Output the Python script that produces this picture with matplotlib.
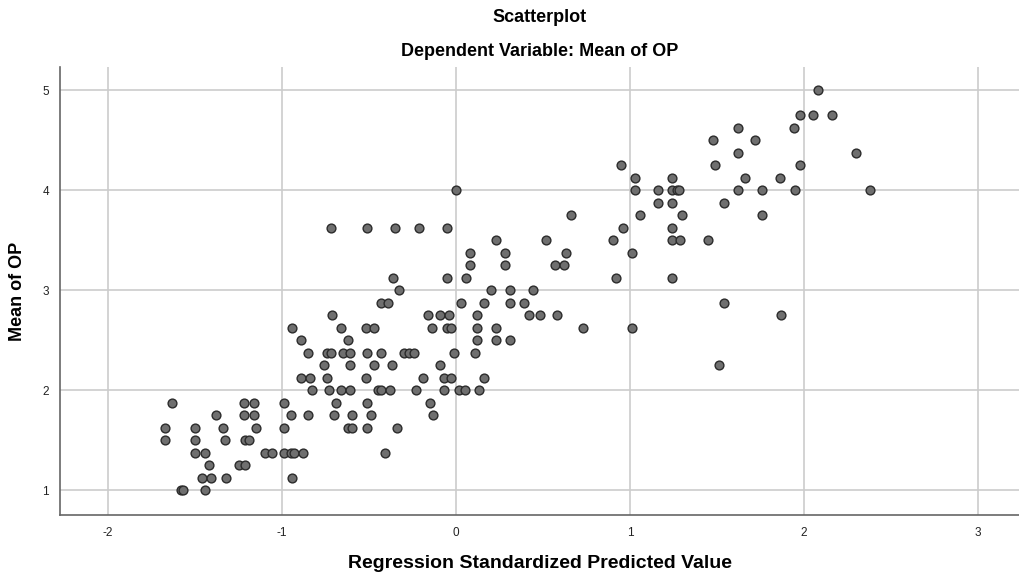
import matplotlib
matplotlib.use('Agg')
import matplotlib.pyplot as plt
import numpy as np

# Mean of OP levels and the standardized predicted values read at each level
y_levels = [1.0, 1.125, 1.25, 1.375, 1.5, 1.625, 1.75, 1.875, 2.0, 2.125,
            2.25, 2.375, 2.5, 2.625, 2.75, 2.875, 3.0, 3.125, 3.25, 3.375,
            3.5, 3.625, 3.75, 3.875, 4.0, 4.125, 4.25, 4.375, 4.5, 4.625,
            4.75, 5.0]
x_by_level = [
    [-1.58, -1.57, -1.44],
    [-1.46, -1.41, -1.32, -0.94],
    [-1.42, -1.25, -1.21],
    [-1.50, -1.44, -1.10, -1.06, -0.99, -0.95, -0.93, -0.88, -0.41],
    [-1.67, -1.50, -1.33, -1.21, -1.19],
    [-1.67, -1.50, -1.34, -1.15, -0.99, -0.62, -0.60, -0.51, -0.34],
    [-1.38, -1.22, -1.16, -0.95, -0.85, -0.70, -0.60, -0.49, -0.13],
    [-1.63, -1.22, -1.16, -0.99, -0.69, -0.51, -0.15],
    [-0.83, -0.73, -0.66, -0.61, -0.45, -0.43, -0.38, -0.23, -0.07, 0.02, 0.05, 0.13],
    [-0.89, -0.84, -0.74, -0.52, -0.19, -0.07, -0.03, 0.16],
    [-0.76, -0.61, -0.47, -0.37, -0.09, 1.51],
    [-0.85, -0.74, -0.72, -0.65, -0.61, -0.51, -0.43, -0.30, -0.27, -0.24, -0.01, 0.11],
    [-0.89, -0.62, 0.12, 0.23, 0.31],
    [-0.94, -0.66, -0.52, -0.47, -0.14, -0.05, -0.03, 0.12, 0.23, 0.73, 1.01],
    [-0.71, -0.16, -0.09, -0.04, 0.12, 0.42, 0.48, 0.58, 1.87],
    [-0.43, -0.39, 0.03, 0.16, 0.31, 0.39, 1.54],
    [-0.33, 0.20, 0.31, 0.44],
    [-0.36, -0.05, 0.06, 0.92, 1.24],
    [0.08, 0.28, 0.57, 0.62],
    [0.08, 0.28, 0.63, 1.01],
    [0.23, 0.52, 0.90, 1.24, 1.29, 1.45],
    [-0.72, -0.51, -0.35, -0.21, -0.05, 0.96, 1.24],
    [0.66, 1.06, 1.30, 1.76],
    [1.16, 1.24, 1.54],
    [0.00, 1.03, 1.16, 1.24, 1.27, 1.28, 1.62, 1.76, 1.95, 2.38],
    [1.03, 1.24, 1.66, 1.86],
    [0.95, 1.49, 1.98],
    [1.62, 2.30],
    [1.48, 1.72],
    [1.62, 1.94],
    [1.98, 2.05, 2.16],
    [2.08],
]

x_ticks = [-2, -1, 0, 1, 2, 3]
y_ticks = [1, 2, 3, 4, 5]

pred = [x for xs in x_by_level for x in xs]
mean_op = [y for y, xs in zip(y_levels, x_by_level) for _ in xs]

plt.rcParams['font.family'] = ['Liberation Sans', 'DejaVu Sans']
plt.rcParams['axes.unicode_minus'] = False

fig = plt.figure(figsize=(10.19, 5.78), dpi=100)
ax = fig.add_axes([0.0589, 0.109, 0.9411, 0.775])

ax.set_axisbelow(True)
ax.grid(True, color='#cccccc', linewidth=1.2)
ax.scatter(pred, mean_op, s=40, facecolor='#6f6f6f', edgecolor='#2b2b2b',
           linewidth=1.0, zorder=3)

ax.set_xlim(-2.276, 3.236)
ax.set_ylim(0.75, 5.23)
ax.set_xticks(x_ticks)
ax.set_yticks(y_ticks)
ax.tick_params(length=0, labelsize=8.5, colors='#222222', pad=9)
ax.tick_params(axis='y', pad=8)

for side in ['top', 'right']:
    ax.spines[side].set_visible(False)
for side in ['left', 'bottom']:
    ax.spines[side].set_color('#666666')
    ax.spines[side].set_linewidth(1.2)

cx = 0.0589 + 0.9411 / 2
fig.text(cx, 1 - 17 / 578, 'Scatterplot', ha='center', va='center',
         fontsize=13, fontweight='bold')
fig.text(cx, 1 - 52 / 578, 'Dependent Variable: Mean of OP', ha='center',
         va='center', fontsize=13, fontweight='bold')
fig.text(cx, 1 - 563 / 578, 'Regression Standardized Predicted Value',
         ha='center', va='center', fontsize=14, fontweight='bold')
fig.text(18 / 1019, 1 - 291 / 578, 'Mean of OP', rotation=90, ha='center',
         va='center', fontsize=13, fontweight='bold')

fig.savefig('out.png', dpi=100, facecolor='white')
